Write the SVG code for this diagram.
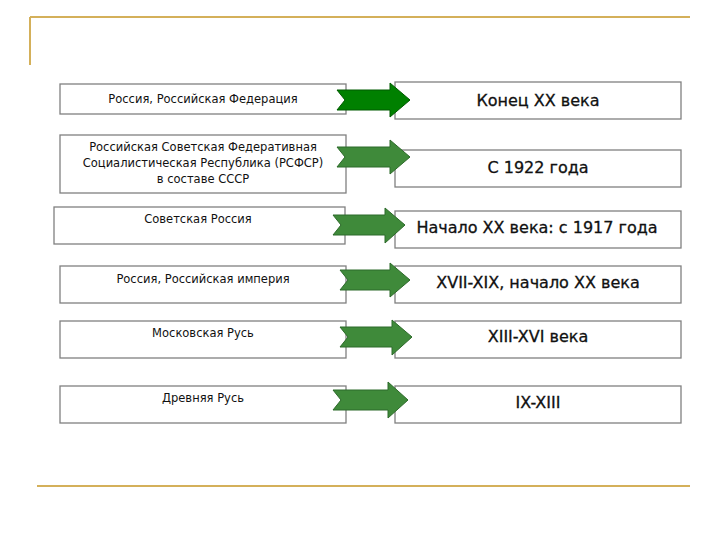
<svg xmlns="http://www.w3.org/2000/svg" width="720" height="540" viewBox="0 0 720 540">
<style>
.box{fill:#fff;stroke:#808080;stroke-width:1.3}
.l{font-family:"DejaVu Sans",sans-serif;font-size:11.5px;text-anchor:middle;fill:#111}
.r{font-family:"DejaVu Sans",sans-serif;font-size:16px;text-anchor:middle;fill:#111;stroke:#111;stroke-width:0.3}
.a{fill:#3f8a3a;stroke:#2d6a2a;stroke-width:1}
.deco{stroke:#d4b05a;stroke-width:2;fill:none}
</style>
<rect width="720" height="540" fill="#fff"/>
<path class="deco" d="M30 17H690M30 17V65M37 486H690"/>
<g id="n1"><rect class="box" x="60" y="84" width="286" height="30"/><text class="l" x="203" y="103">Россия, Российская Федерация</text></g>
<g id="m1"><rect class="box" x="395" y="82" width="286" height="37"/><text class="r" x="538" y="106">Конец XX века</text></g>
<g id="n2"><rect class="box" x="60" y="135" width="286" height="58"/><text class="l" x="203" y="151">Российская Советская Федеративная</text><text class="l" x="203" y="167">Социалистическая Республика (РСФСР)</text><text class="l" x="203" y="183">в составе СССР</text></g>
<g id="m2"><rect class="box" x="395" y="150" width="286" height="37"/><text class="r" x="538" y="173">С 1922 года</text></g>
<g id="n3"><rect class="box" x="54" y="207" width="291" height="37"/><text class="l" x="198" y="223">Советская Россия</text></g>
<g id="m3"><rect class="box" x="395" y="211" width="286" height="37"/><text class="r" x="537" y="233">Начало XX века: с 1917 года</text></g>
<g id="n4"><rect class="box" x="60" y="266" width="286" height="37"/><text class="l" x="203" y="283">Россия, Российская империя</text></g>
<g id="m4"><rect class="box" x="395" y="266" width="286" height="37"/><text class="r" x="538" y="288">XVII-XIX, начало XX века</text></g>
<g id="n5"><rect class="box" x="60" y="321" width="286" height="37"/><text class="l" x="203" y="337">Московская Русь</text></g>
<g id="m5"><rect class="box" x="395" y="321" width="286" height="37"/><text class="r" x="538" y="342">XIII-XVI века</text></g>
<g id="n6"><rect class="box" x="60" y="386" width="286" height="37"/><text class="l" x="203" y="402">Древняя Русь</text></g>
<g id="m6"><rect class="box" x="395" y="386" width="286" height="37"/><text class="r" x="538" y="408">IX-XIII</text></g>
<g id="connectors">
<path class="a" style="fill:#008000;stroke:#005a00" d="M337 90H390V83L410 100L390 117V110H337L345 100Z"/>
<path class="a" d="M337 147H390V140L410 157L390 174V167H337L345 157Z"/>
<path class="a" d="M333 215H385V208L405 225L385 243V235H333L341 225Z"/>
<path class="a" d="M340 270H390V263L410 280L390 297V290H340L348 280Z"/>
<path class="a" d="M340 327H392V320L412 337L392 355V347H340L348 337Z"/>
<path class="a" d="M333 390H388V382L408 400L388 418V410H333L341 400Z"/>
</g>
</svg>
